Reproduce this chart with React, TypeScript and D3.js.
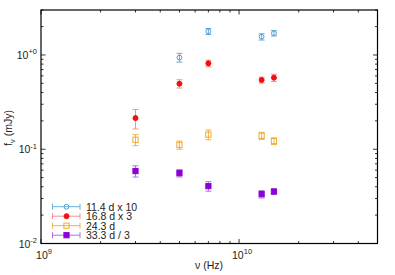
import * as d3 from "d3";

const W = 395;
const H = 275;
const M = { left: 41, right: 17.5, top: 10, bottom: 31.5 };

const freqs = [3e9, 5e9, 7e9, 13e9, 15e9];

const labels = ["11.4 d x 10", "16.8 d x 3", "24.3 d", "33.3 d / 3"];

// flux values (mJy), null = no point
const s1Vals = [null, 0.94, 1.78, 1.56, 1.7];
const s1Errs = [null, 0.1, 0.13, 0.12, 0.11];
const s2Vals = [0.214, 0.496, 0.815, 0.543, 0.574];
const s2Errs = [0.05, 0.05, 0.065, 0.04, 0.05];
const s3Vals = [0.126, 0.111, 0.143, 0.139, 0.122];
const s3Errs = [0.017, 0.011, 0.017, 0.012, 0.01];
const s4Vals = [0.0587, 0.0558, 0.0406, 0.0334, 0.0356];
const s4Errs = [0.008, 0.005, 0.0047, 0.003, 0.0023];

const yTicks = [0.01, 0.1, 1];
const yTickExp = ["-2", "-1", "+0"];
const xTicks = [1e9, 1e10];
const xTickExp = ["9", "10"];

type Series = {
  vals: (number | null)[];
  errs: (number | null)[];
  color: string;
  errColor: string;
  shape: "circle" | "square";
  filled: boolean;
};

const series: Series[] = [
  { vals: s1Vals, errs: s1Errs, color: "#4f9fd6", errColor: "#6aaedc", shape: "circle", filled: false },
  { vals: s2Vals, errs: s2Errs, color: "#f01010", errColor: "#f89090", shape: "circle", filled: true },
  { vals: s3Vals, errs: s3Errs, color: "#eeaa33", errColor: "#f0b440", shape: "square", filled: false },
  { vals: s4Vals, errs: s4Errs, color: "#8c00d6", errColor: "#b070e8", shape: "square", filled: true },
];

const FONT = "Liberation Sans, Arial, sans-serif";
const FS = 10.5;

function Marker({ x, y, s }: { x: number; y: number; s: Series }) {
  if (s.shape === "circle") {
    return (
      <circle
        cx={x}
        cy={y}
        r={s.filled ? 2.5 : 2.4}
        fill={s.filled ? s.color : "none"}
        stroke={s.color}
        strokeWidth={1}
      />
    );
  }
  const a = s.filled ? 2.6 : 2.6;
  return (
    <rect
      x={x - a}
      y={y - a}
      width={2 * a}
      height={2 * a}
      fill={s.filled ? s.color : "none"}
      stroke={s.color}
      strokeWidth={1}
    />
  );
}

export default function App() {
  const x = d3.scaleLog().domain([1e9, 5e10]).range([M.left, W - M.right]);
  const y = d3.scaleLog().domain([0.01, 3]).range([H - M.bottom, M.top]);
  const x0 = M.left;
  const x1 = W - M.right;
  const y0 = H - M.bottom;
  const y1 = M.top;

  const xMinor: number[] = [];
  for (let d = 1e9; d <= 1e10; d *= 10) {
    for (let k = 2; k <= 9; k++) if (k * d <= 5e10) xMinor.push(k * d);
  }
  const yMinor: number[] = [];
  for (let d = 0.01; d <= 1; d *= 10) {
    for (let k = 2; k <= 9; k++) if (k * d <= 3) yMinor.push(k * d);
  }

  const cap = 3;

  return (
    <div style={{ position: "absolute", left: 0, top: 0 }}>
      <svg width={W} height={H} style={{ display: "block", background: "#fff" }}>
        {/* ticks */}
        <g stroke="#000" strokeWidth={0.8}>
          {xTicks.map((t) => (
            <g key={"xt" + t}>
              <line x1={x(t)} x2={x(t)} y1={y0} y2={y0 - 4.5} />
              <line x1={x(t)} x2={x(t)} y1={y1} y2={y1 + 4.5} />
            </g>
          ))}
          {xMinor.map((t) => (
            <g key={"xm" + t}>
              <line x1={x(t)} x2={x(t)} y1={y0} y2={y0 - 2.5} />
              <line x1={x(t)} x2={x(t)} y1={y1} y2={y1 + 2.5} />
            </g>
          ))}
          {yTicks.map((t) => (
            <g key={"yt" + t}>
              <line x1={x0} x2={x0 + 4.5} y1={y(t)} y2={y(t)} />
              <line x1={x1} x2={x1 - 4.5} y1={y(t)} y2={y(t)} />
            </g>
          ))}
          {yMinor.map((t) => (
            <g key={"ym" + t}>
              <line x1={x0} x2={x0 + 2.5} y1={y(t)} y2={y(t)} />
              <line x1={x1} x2={x1 - 2.5} y1={y(t)} y2={y(t)} />
            </g>
          ))}
        </g>
        <rect x={x0} y={y1} width={x1 - x0} height={y0 - y1} fill="none" stroke="#000" strokeWidth={1.2} />

        {/* tick labels */}
        <g fontFamily={FONT} fill="#222">
          {yTicks.map((t, i) => (
            <text key={"yl" + t} x={37} y={y(t) + 4} fontSize={FS} textAnchor="end">
              10
              <tspan dy={-4.5} fontSize={7.5}>
                {yTickExp[i]}
              </tspan>
            </text>
          ))}
          {xTicks.map((t, i) => (
            <text key={"xl" + t} x={x(t) + 3} y={y0 + 15} fontSize={FS} textAnchor="middle">
              10
              <tspan dy={-4.5} fontSize={7.5}>
                {xTickExp[i]}
              </tspan>
            </text>
          ))}
          <text x={209} y={268.5} fontSize={FS} textAnchor="middle">
            ν (Hz)
          </text>
          <text transform={`translate(11.5, ${128}) rotate(-90)`} fontSize={FS} textAnchor="middle">
            f
            <tspan dy={3} fontSize={7.5}>
              ν
            </tspan>
            <tspan dy={-3}> (mJy)</tspan>
          </text>
        </g>

        {/* data */}
        {series.map((s, si) => (
          <g key={"s" + si}>
            {s.vals.map((v, i) => {
              if (v == null) return null;
              const e = s.errs[i] ?? 0;
              const px = x(freqs[i]);
              const ya = y(v + e);
              const yb = y(v - e);
              return (
                <g key={i}>
                  <g stroke={s.errColor} strokeWidth={1}>
                    <line x1={px} x2={px} y1={ya} y2={yb} />
                    <line x1={px - cap} x2={px + cap} y1={ya} y2={ya} />
                    <line x1={px - cap} x2={px + cap} y1={yb} y2={yb} />
                  </g>
                  <Marker x={px} y={y(v)} s={s} />
                </g>
              );
            })}
          </g>
        ))}

        {/* legend */}
        {series.map((s, i) => {
          const ly = 206.7 + i * 9.5;
          return (
            <g key={"lg" + i}>
              <g stroke={s.errColor} strokeWidth={1}>
                <line x1={52.5} x2={80} y1={ly} y2={ly} />
                <line x1={52.5} x2={52.5} y1={ly - 3} y2={ly + 3} />
                <line x1={80} x2={80} y1={ly - 3} y2={ly + 3} />
              </g>
              <Marker x={66.5} y={ly} s={s} />
              <text x={86} y={ly + 4} fontSize={FS} fontFamily={FONT} fill="#222">
                {labels[i]}
              </text>
            </g>
          );
        })}
      </svg>
    </div>
  );
}
